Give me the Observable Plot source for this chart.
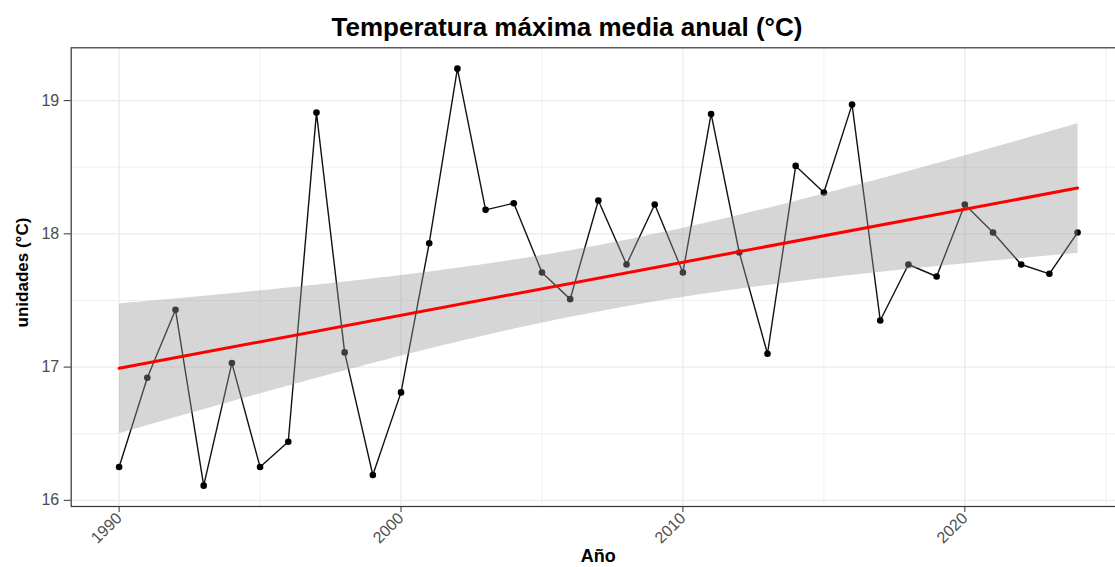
<!DOCTYPE html>
<html>
<head>
<meta charset="utf-8">
<script src="https://cdn.jsdelivr.net/npm/d3@7"></script>
<script src="https://cdn.jsdelivr.net/npm/@observablehq/plot@0.6"></script>
<style>
  html, body { margin: 0; padding: 0; background: #fff; }
  #wrap { position: relative; width: 1115px; height: 567px; overflow: hidden; background: #fff; font-family: "Liberation Sans", Arial, sans-serif; }
  #title { position: absolute; left: 567px; top: 13.5px; transform: translateX(-50%); white-space: nowrap;
           font-size: 26px; line-height: 26px; font-weight: bold; color: #000; }
  #chart { position: absolute; left: 0; top: 40px; width: 1140px; }
  #chart svg { font-family: "Liberation Sans", Arial, sans-serif; overflow: visible; max-width: none !important; }
  #chart g[aria-label="y-axis tick label"] text, #chart g[aria-label="x-axis tick label"] text { fill: #4d4d4d; }
</style>
</head>
<body>
<div id="wrap">
  <div id="title">Temperatura máxima media anual (°C)</div>
  <div id="chart"></div>
</div>
<script>
const years = [1990,1991,1992,1993,1994,1995,1996,1997,1998,1999,
               2000,2001,2002,2003,2004,2005,2006,2007,2008,2009,
               2010,2011,2012,2013,2014,2015,2016,2017,2018,2019,
               2020,2021,2022,2023,2024];
const tmax = [16.25,16.92,17.43,16.11,17.03,16.25,16.44,18.91,17.11,16.19,
              16.81,17.93,19.24,18.18,18.23,17.71,17.51,18.25,17.77,18.22,
              17.71,18.90,17.86,17.10,18.51,18.31,18.97,17.35,17.77,17.68,
              18.22,18.01,17.77,17.70,18.01];
const xTicks = [1990, 2000, 2010, 2020];
const xMinor = [1995, 2005, 2015, 2025];
const yTicks = [16, 17, 18, 19];
const yMinor = [16.5, 17.5, 18.5];
const titleText = "Temperatura máxima media anual (°C)";
const xLabel = "Año";
const yLabel = "unidades (°C)";

const data = years.map((y, i) => ({year: y, value: tmax[i]}));

const xe = d3.extent(years), ye = d3.extent(tmax);
const xp = (xe[1] - xe[0]) * 0.05, yp = (ye[1] - ye[0]) * 0.05;

const chart = Plot.plot({
  width: 1140,
  height: 527,
  marginTop: 7.3,
  marginBottom: 61,
  marginLeft: 70.7,
  marginRight: 15,
  style: { maxWidth: "none", overflow: "visible" },
  x: { domain: [xe[0] - xp, xe[1] + xp] },
  y: { domain: [ye[0] - yp, ye[1] + yp] },
  marks: [
    Plot.ruleX(xMinor, { stroke: "#f0f0f0", strokeWidth: 1 }),
    Plot.ruleY(yMinor, { stroke: "#f0f0f0", strokeWidth: 1 }),
    Plot.ruleX(xTicks, { stroke: "#ebebeb", strokeWidth: 1.3 }),
    Plot.ruleY(yTicks, { stroke: "#ebebeb", strokeWidth: 1.3 }),
    Plot.line(data, { x: "year", y: "value", stroke: "#111", strokeWidth: 1.4 }),
    Plot.dot(data, { x: "year", y: "value", r: 3.3, fill: "#000", stroke: "none" }),
    Plot.linearRegressionY(data, { x: "year", y: "value", stroke: "#ff0000", strokeWidth: 3,
                                   fill: "#999999", fillOpacity: 0.4, ci: 0.95 }),
    Plot.frame({ stroke: "#333333", strokeWidth: 1.2 }),
    Plot.axisY(yTicks, { tickSize: 7, tickPadding: 5, fontSize: 16, stroke: "#333333", label: null,
                         tickFormat: d => String(d) }),
    Plot.axisX(xTicks, { tickSize: 6, tickPadding: 3, fontSize: 16, tickRotate: -45, stroke: "#333333",
                         tickFormat: d => String(d), label: null }),
    Plot.text([yLabel], { frameAnchor: "left", dx: -49, dy: -4.6, rotate: -90, textAnchor: "middle",
                          lineAnchor: "middle", fontWeight: "bold", fontSize: 17, fill: "#000" }),
    Plot.text([xLabel], { frameAnchor: "bottom", dy: 49.5, textAnchor: "middle", lineAnchor: "middle",
                          fontWeight: "bold", fontSize: 18, fill: "#000" })
  ]
});
document.getElementById("chart").appendChild(chart);
</script>
</body>
</html>
